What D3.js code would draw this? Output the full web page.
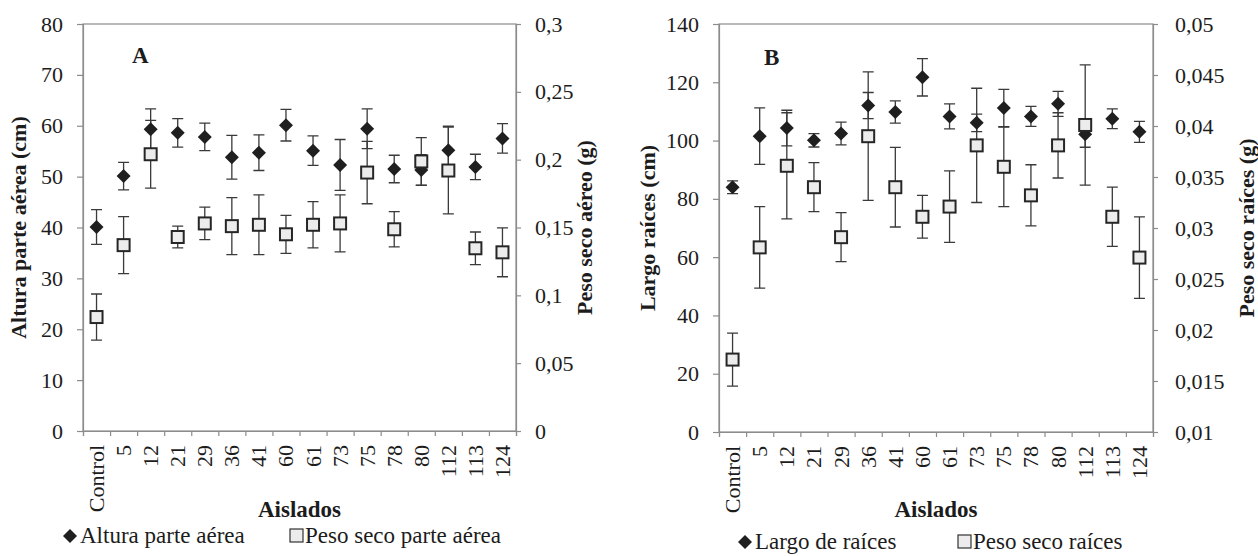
<!DOCTYPE html>
<html>
<head>
<meta charset="utf-8">
<script src="https://cdn.jsdelivr.net/npm/d3@7"></script>
<style>
  html, body { margin: 0; padding: 0; background: #fff; }
  svg text { font-family: "Liberation Serif", "Times New Roman", serif; fill: #1c1c1c; }
</style>
</head>
<body>
<div id="app"></div>
<script>
// categories shared by both panels
const aislados = ["Control", "5", "12", "21", "29", "36", "41", "60", "61", "73", "75", "78", "80", "112", "113", "124"];

// panel A - altura parte aerea (cm), left axis
const alturaMean = [40.1, 50.1, 59.3, 58.6, 57.8, 53.8, 54.7, 60.1, 55.1, 52.3, 59.4, 51.5, 51.3, 55.2, 51.9, 57.5];
const alturaErr = [3.4, 2.7, 4.0, 2.8, 2.7, 4.3, 3.5, 3.1, 2.9, 5.0, 3.9, 2.7, 3.0, 4.7, 2.5, 2.9];
// panel A - peso seco parte aerea (g), right axis
const pesoAereoMean = [0.084, 0.137, 0.204, 0.143, 0.153, 0.151, 0.152, 0.145, 0.152, 0.153, 0.1905, 0.1487, 0.1987, 0.192, 0.1347, 0.1317];
const pesoAereoErr = [0.017, 0.021, 0.025, 0.008, 0.012, 0.021, 0.022, 0.014, 0.017, 0.021, 0.023, 0.013, 0.0176, 0.032, 0.012, 0.018];

// panel B - largo de raices (cm), left axis
const largoMean = [84.0, 101.5, 104.3, 100.1, 102.4, 112.0, 109.8, 121.7, 108.3, 106.1, 111.2, 108.3, 112.6, 102.2, 107.5, 103.0];
const largoErr = [2.2, 9.7, 6.1, 2.3, 3.9, 4.5, 3.8, 6.4, 4.3, 3.0, 6.4, 3.4, 4.3, 4.5, 3.4, 3.6];
// panel B - peso seco raices (g), right axis
const pesoRaicesMean = [0.0171, 0.0281, 0.0361, 0.0340, 0.0291, 0.0390, 0.0340, 0.0311, 0.0321, 0.0381, 0.0360, 0.0332, 0.0381, 0.0401, 0.0311, 0.0271];
const pesoRaicesErr = [0.0026, 0.0040, 0.0052, 0.0024, 0.0024, 0.0063, 0.0039, 0.0021, 0.0035, 0.0056, 0.0039, 0.0030, 0.0032, 0.0059, 0.0029, 0.0040];

// tick values
const ticksAltura = [0, 10, 20, 30, 40, 50, 60, 70, 80];
const ticksPesoAereo = [0, 0.05, 0.1, 0.15, 0.2, 0.25, 0.3];
const ticksLargo = [0, 20, 40, 60, 80, 100, 120, 140];
const ticksPesoRaices = [0.01, 0.015, 0.02, 0.025, 0.03, 0.035, 0.04, 0.045, 0.05];

const width = 1258, height = 556;
const axisColor = "#8c8c8c";

const svg = d3.select("#app")
  .append("svg")
  .attr("width", width)
  .attr("height", height);

const commaFmt = d => String(+d.toFixed(4)).replace(".", ",");

const diamondPath = (s) => `M0,${-s}L${s},0L0,${s}L${-s},0Z`;

function drawPanel(p) {
  const g = svg.append("g");

  const x = d3.scaleBand().domain(aislados).range([p.left, p.right]);
  const xEdges = d3.scaleLinear().domain([0, aislados.length]).range([p.left, p.right]);
  const yL = d3.scaleLinear().domain(p.leftDomain).range([p.bottom, p.top]);
  const yR = d3.scaleLinear().domain(p.rightDomain).range([p.bottom, p.top]);

  // frame
  g.append("rect")
    .attr("x", p.left).attr("y", p.top)
    .attr("width", p.right - p.left).attr("height", p.bottom - p.top)
    .attr("fill", "none").attr("stroke", axisColor).attr("stroke-width", 1.2);

  // left axis
  const axL = g.append("g")
    .attr("transform", `translate(${p.left},0)`)
    .call(d3.axisLeft(yL).tickValues(p.leftTicks).tickSize(6).tickPadding(14).tickFormat(d => d));
  // right axis
  const axR = g.append("g")
    .attr("transform", `translate(${p.right},0)`)
    .call(d3.axisRight(yR).tickValues(p.rightTicks).tickSize(5).tickPadding(p.rightPad).tickFormat(commaFmt));
  // bottom ticks at category edges
  const axB = g.append("g")
    .attr("transform", `translate(0,${p.bottom})`)
    .call(d3.axisBottom(xEdges).tickValues(d3.range(aislados.length + 1)).tickSize(5).tickFormat(""));

  [axL, axR, axB].forEach(a => {
    a.select(".domain").attr("stroke", axisColor).attr("stroke-width", 1.2);
    a.selectAll(".tick line").attr("stroke", axisColor).attr("stroke-width", 1.2);
    a.selectAll(".tick text").style("font-size", "22px").attr("fill", "#1c1c1c")
      .style("font-family", "'Liberation Serif', 'Times New Roman', serif");
  });

  // category labels, rotated
  g.append("g")
    .selectAll("text")
    .data(aislados)
    .join("text")
    .attr("transform", d => `translate(${x(d) + x.bandwidth() / 2},${p.bottom + 14}) rotate(-90)`)
    .attr("text-anchor", "end")
    .attr("dy", "0.34em")
    .style("font-size", "22px")
    .text(d => d);

  const cap = 5.5;
  const cx = d => x(d.cat) + x.bandwidth() / 2;

  const s1 = aislados.map((c, i) => ({ cat: c, v: p.s1Mean[i], e: p.s1Err[i] }));
  const s2 = aislados.map((c, i) => ({ cat: c, v: p.s2Mean[i], e: p.s2Err[i] }));

  const errBars = (data, y) => {
    const eb = g.append("g").attr("stroke", "#3a3a3a").attr("stroke-width", 1.3).attr("fill", "none");
    eb.selectAll("path")
      .data(data)
      .join("path")
      .attr("d", d => {
        const xc = cx(d), y1 = y(d.v + d.e), y2 = y(d.v - d.e);
        return `M${xc},${y1}L${xc},${y2}M${xc - cap},${y1}L${xc + cap},${y1}M${xc - cap},${y2}L${xc + cap},${y2}`;
      });
  };
  errBars(s1, yL);
  errBars(s2, yR);

  // diamonds (left axis series)
  g.append("g")
    .selectAll("path")
    .data(s1)
    .join("path")
    .attr("transform", d => `translate(${cx(d)},${yL(d.v)})`)
    .attr("d", diamondPath(7))
    .attr("fill", "#1f1f1f");

  // squares (right axis series)
  g.append("g")
    .selectAll("rect")
    .data(s2)
    .join("rect")
    .attr("x", d => cx(d) - 6)
    .attr("y", d => yR(d.v) - 6)
    .attr("width", 12).attr("height", 12)
    .attr("fill", "#ececec")
    .attr("stroke", "#262626")
    .attr("stroke-width", 2);

  // panel letter
  g.append("text")
    .attr("x", p.letterX).attr("y", p.letterY)
    .style("font-size", "23px").style("font-weight", "bold")
    .text(p.letter);

  // axis titles
  const midY = (p.top + p.bottom) / 2;
  g.append("text")
    .attr("transform", `translate(${p.leftTitleX},${midY}) rotate(-90)`)
    .attr("text-anchor", "middle")
    .style("font-size", "22px").style("font-weight", "bold")
    .text(p.leftTitle);
  g.append("text")
    .attr("transform", `translate(${p.rightTitleX},${midY}) rotate(-90)`)
    .attr("text-anchor", "middle")
    .style("font-size", "22px").style("font-weight", "bold")
    .text(p.rightTitle);
  g.append("text")
    .attr("x", (p.left + p.right) / 2).attr("y", p.xTitleY)
    .attr("text-anchor", "middle")
    .style("font-size", "23px").style("font-weight", "bold")
    .text("Aislados");

  // legend
  const lg = g.append("g");
  lg.append("path")
    .attr("transform", `translate(${p.legX1},${p.legY - 7})`)
    .attr("d", diamondPath(7))
    .attr("fill", "#1f1f1f");
  lg.append("text")
    .attr("x", p.legX1 + 10).attr("y", p.legY)
    .style("font-size", "23px")
    .text(p.s1Name);
  lg.append("rect")
    .attr("x", p.legX2 - 6).attr("y", p.legY - 14)
    .attr("width", 13).attr("height", 13)
    .attr("fill", "#ececec").attr("stroke", "#333").attr("stroke-width", 1.2);
  lg.append("text")
    .attr("x", p.legX2 + 9).attr("y", p.legY)
    .style("font-size", "23px")
    .text(p.s2Name);
}

drawPanel({
  left: 83, right: 516, top: 24, bottom: 431,
  leftDomain: [0, 80], rightDomain: [0, 0.3],
  leftTicks: ticksAltura, rightTicks: ticksPesoAereo, rightPad: 14,
  s1Mean: alturaMean, s1Err: alturaErr,
  s2Mean: pesoAereoMean, s2Err: pesoAereoErr,
  letter: "A", letterX: 132, letterY: 63,
  leftTitle: "Altura parte aérea (cm)", leftTitleX: 26,
  rightTitle: "Peso seco aéreo (g)", rightTitleX: 592,
  xTitleY: 517,
  s1Name: "Altura parte aérea", s2Name: "Peso seco parte aérea",
  legX1: 70, legX2: 296, legY: 543
});

drawPanel({
  left: 719, right: 1153, top: 24, bottom: 432,
  leftDomain: [0, 140], rightDomain: [0.01, 0.05],
  leftTicks: ticksLargo, rightTicks: ticksPesoRaices, rightPad: 17,
  s1Mean: largoMean, s1Err: largoErr,
  s2Mean: pesoRaicesMean, s2Err: pesoRaicesErr,
  letter: "B", letterX: 764, letterY: 65,
  leftTitle: "Largo raíces (cm)", leftTitleX: 655,
  rightTitle: "Peso seco raíces (g)", rightTitleX: 1254,
  xTitleY: 517,
  s1Name: "Largo de raíces", s2Name: "Peso seco raíces",
  legX1: 745, legX2: 964, legY: 549
});
</script>
</body>
</html>
